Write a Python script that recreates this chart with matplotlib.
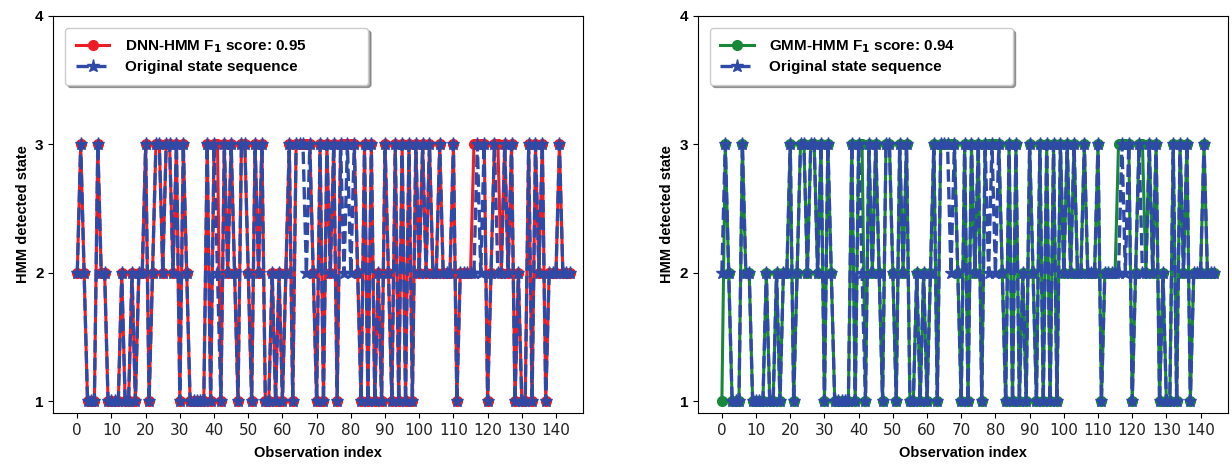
import matplotlib
matplotlib.use("Agg")
import matplotlib.pyplot as plt
import numpy as np

# Original state sequence
original = [
    2, 3, 2, 1, 1, 1, 3, 2, 2, 1,
    1, 1, 1, 2, 1, 1, 2, 1, 2, 2,
    3, 1, 2, 3, 3, 2, 3, 3, 2, 3,
    1, 3, 2, 1, 1, 1, 1, 1, 3, 1,
    3, 2, 1, 3, 2, 3, 2, 1, 3, 3,
    2, 1, 3, 2, 3, 1, 1, 2, 1, 2,
    1, 2, 3, 1, 3, 3, 3, 2, 3, 2,
    1, 3, 1, 3, 2, 3, 1, 3, 2, 3,
    2, 3, 2, 1, 3, 1, 3, 1, 2, 1,
    3, 2, 1, 3, 1, 3, 1, 3, 1, 3,
    2, 3, 2, 3, 2, 2, 3, 2, 2, 2,
    3, 1, 2, 2, 2, 2, 2, 3, 2, 3,
    1, 2, 3, 2, 2, 3, 2, 3, 1, 2,
    1, 1, 3, 1, 3, 2, 3, 1, 2, 2,
    2, 3, 2, 2, 2,
]

# indices where the detectors disagree with the original sequence
dnn_errors = {41: 3, 67: 3, 78: 3, 80: 3, 116: 3, 118: 3, 123: 3}
gmm_errors = {0: 1, 41: 3, 67: 3, 78: 3, 80: 3, 116: 3, 118: 3, 123: 3}

dnn_states = [dnn_errors.get(i, v) for i, v in enumerate(original)]
gmm_states = [gmm_errors.get(i, v) for i, v in enumerate(original)]

panels = [
    ("DNN-HMM", "0.95", dnn_states, "#ee1c24"),
    ("GMM-HMM", "0.94", gmm_states, "#17873a"),
]

BLUE = "#2e49a6"
LABEL_FONT = ["Liberation Sans", "DejaVu Sans"]

fig = plt.figure(figsize=(12.32, 4.68), dpi=100)
axes = [fig.add_axes([0.0433, 0.1175, 0.4302, 0.849]),
        fig.add_axes([0.5665, 0.1175, 0.4302, 0.849])]

x = np.arange(len(original))
for ax, (name, score, states, color) in zip(axes, panels):
    ax.plot(x, states, color=color, lw=2.2, marker="o", markersize=7,
            label=name + r" F$_{\mathbf{1}}$ score: " + score, zorder=2)
    ax.plot(x, original, color=BLUE, lw=2.4, ls="--", marker="*", markersize=9.5,
            label="Original state sequence", zorder=3)

    ax.set_xlim(-7, 148)
    ax.set_ylim(0.91, 4.0)
    ax.set_xticks(np.arange(0, 141, 10))
    ax.set_yticks([1, 2, 3, 4])
    ax.tick_params(axis="x", labelsize=11, labelcolor="#222222")
    for lbl in ax.get_yticklabels():
        lbl.set_fontweight("bold")
        lbl.set_fontsize(11)
        lbl.set_family(LABEL_FONT)
    ax.set_xlabel("Observation index", fontsize=10.5, fontweight="bold",
                  family=LABEL_FONT, labelpad=6)
    ax.set_ylabel("HMM detected state", fontsize=10.5, fontweight="bold",
                  family=LABEL_FONT, labelpad=4)

    leg = ax.legend(loc="upper left", bbox_to_anchor=(0.022, 0.0, 0.572, 0.969),
                    mode="expand", borderaxespad=0, numpoints=1,
                    shadow=True, fancybox=True, handlelength=2.2,
                    borderpad=0.7, labelspacing=0.3, handletextpad=1.0,
                    prop={"family": LABEL_FONT, "weight": "bold", "size": 11})
    leg.get_frame().set_edgecolor("#cccccc")

fig.savefig("out.png", dpi=100)
